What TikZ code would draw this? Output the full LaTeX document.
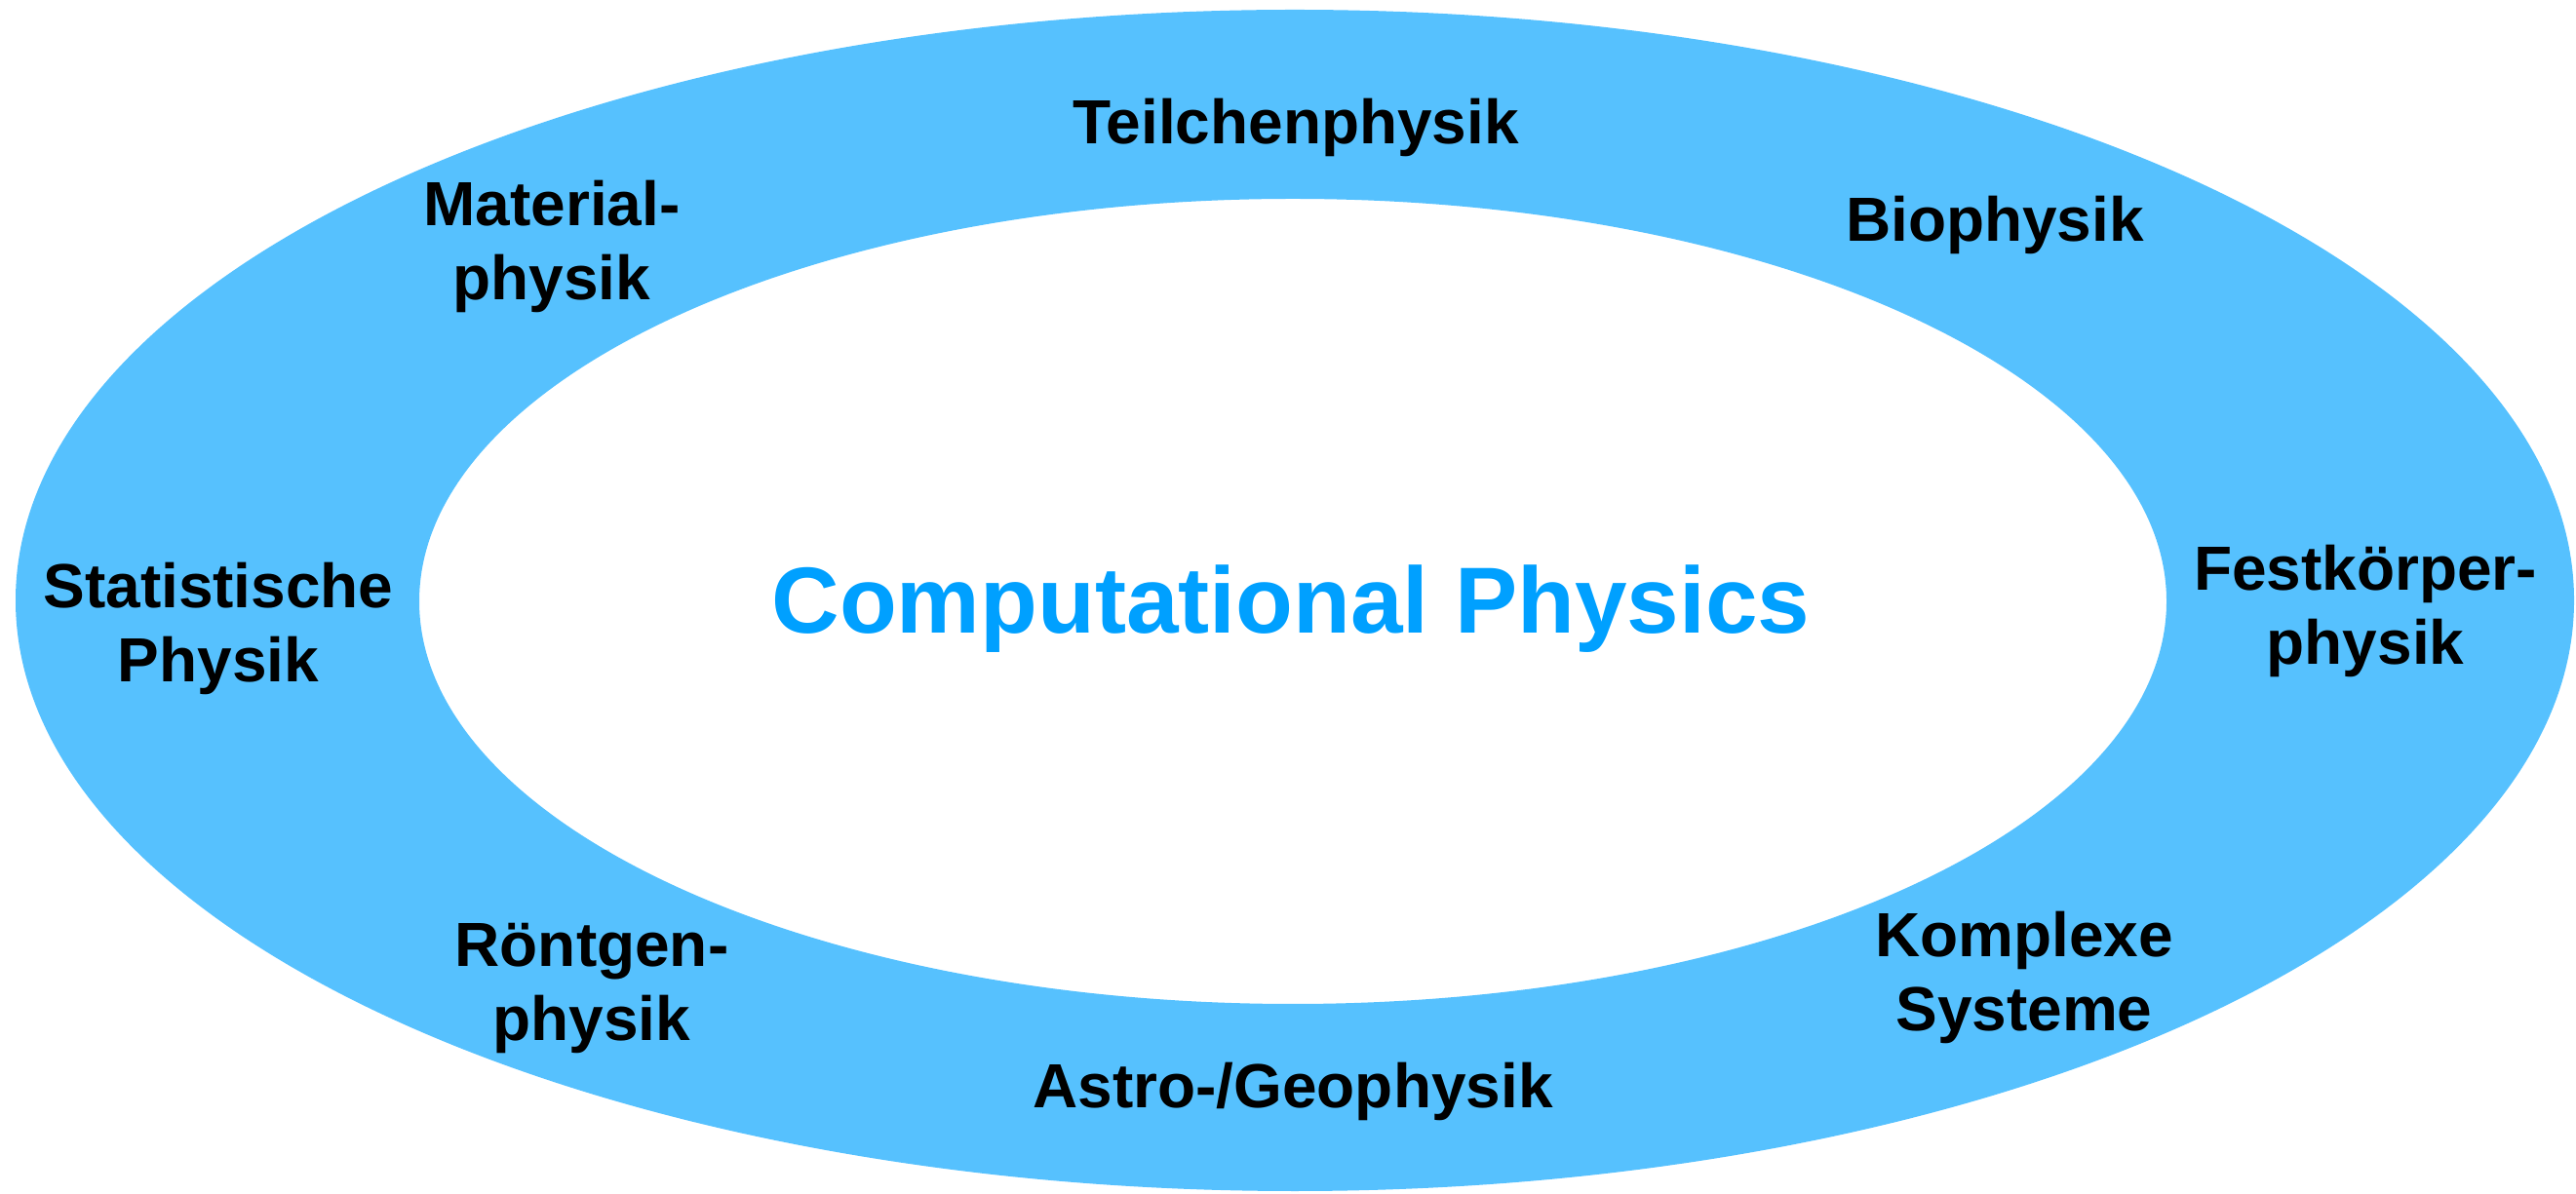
\documentclass[tikz,border=0pt]{standalone}
\usepackage{fontspec}
\setmainfont{Liberation Sans}
\usetikzlibrary{positioning}
\definecolor{ringblue}{HTML}{56C1FE}
\definecolor{titleblue}{HTML}{00A0FF}

\begin{document}
\begin{tikzpicture}[field/.style={font=\fontsize{18.2}{21.8}\selectfont\bfseries,align=center,inner sep=0pt}]
  \useasboundingbox (0,0) rectangle (26.42,12.24);
  % ring
  \fill[ringblue,even odd rule] (13.28,6.08) ellipse (13.12 and 6.06)
                                (13.26,6.07) ellipse (8.96 and 4.13);
  \node[font=\fontsize{27.4}{32}\selectfont\bfseries,text=titleblue] (cp) at (13.24,5.99) {Computational Physics};
  \node[field] (teilchen) at (13.29,10.93) {Teilchenphysik};
  \node[field] (material) at (5.66,9.71) {Material-\\physik};
  \node[field] (bio) at (20.46,9.93) {Biophysik};
  \node[field] (stat) at (2.24,5.79) {Statistische\\Physik};
  \node[field] (fest) at (24.26,5.97) {Festkörper-\\physik};
  \node[field] (roentgen) at (6.07,2.10) {Röntgen-\\physik};
  \node[field] (astro) at (13.26,1.04) {Astro-/Geophysik};
  \node[field] (komplex) at (20.76,2.21) {Komplexe\\Systeme};
\end{tikzpicture}
\end{document}
